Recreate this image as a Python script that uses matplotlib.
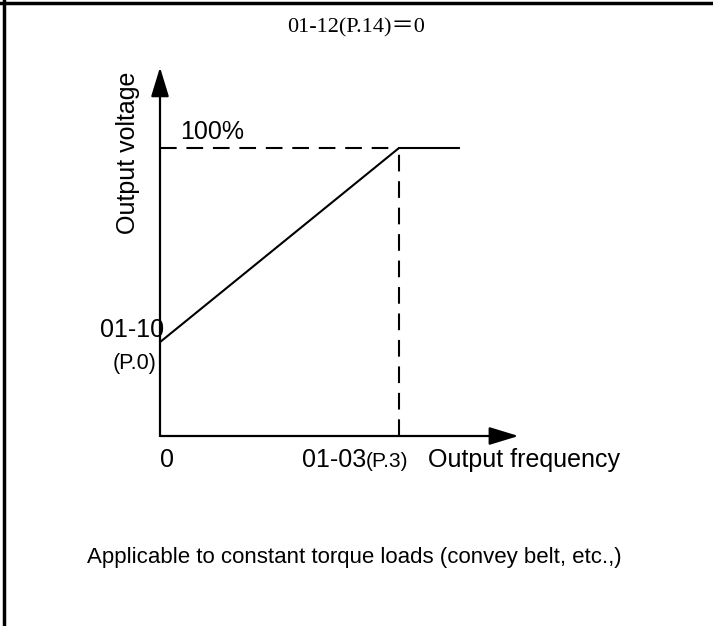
import matplotlib
matplotlib.use("Agg")
import matplotlib.pyplot as plt
from matplotlib.lines import Line2D

# ---- data (schematic V/f curve) ----
freq = [0.0, 1.0, 1.255]          # output frequency (base freq = 1)
volt = [32.6, 100.0, 100.0]       # output voltage, %
base_freq = 1.0
full_volt = 100.0
x_max = 1.5
y_max = 128.0

title_text = "01-12(P.14)\uff1d0"
caption = "Applicable to constant torque loads (convey belt, etc.,)"

W, H = 713, 626
fig = plt.figure(figsize=(W / 100, H / 100), dpi=100)
fig.patch.set_facecolor("white")

# axes placed so that origin is at pixel (160, 436)
ox, oy = 160, 436
px_per_x = 239.0
px_per_y = 2.88
ax = fig.add_axes([ox / W, (H - oy) / H, x_max * px_per_x / W, y_max * px_per_y / H])
ax.set_xlim(0, x_max)
ax.set_ylim(0, y_max)
ax.axis("off")

lw = 1.6
# axes arrows
ap = dict(arrowstyle="-|>,head_length=1.8,head_width=0.55", lw=lw, color="black",
          shrinkA=0, shrinkB=0, mutation_scale=10)
ax.annotate("", xy=(x_max, 0), xytext=(0, 0), arrowprops=ap, annotation_clip=False)
ax.annotate("", xy=(0, y_max), xytext=(0, 0), arrowprops=ap, annotation_clip=False)

# V/f line
ax.plot(freq, volt, color="black", lw=1.5, solid_capstyle="butt", clip_on=False)
# dashed guides
ax.plot([0, base_freq], [full_volt, full_volt], color="black", lw=1.5,
        linestyle=(0, (8, 4.7)), clip_on=False)
ax.plot([base_freq, base_freq], [0, full_volt], color="black", lw=1.5,
        linestyle=(0, (8, 4.7)), clip_on=False)

sans = "Liberation Sans"

def ptext(x, y, s, **kw):
    fig.text(x / W, 1 - y / H, s, **kw)

ptext(356, 28, title_text, family=["Liberation Serif", "Noto Sans CJK SC"],
      fontsize=16, ha="center", va="center")
ptext(180, 139, "100%", family=sans, fontsize=18, ha="left", va="baseline")
ptext(128, 153, "Output voltage", family=sans, fontsize=18, rotation=90,
      ha="center", va="center")
ptext(164, 330, "01-10", family=sans, fontsize=18, ha="right", va="center")
ptext(156, 363, "(P.0)", family=sans, fontsize=15.5, ha="right", va="center")
ptext(167, 467, "0", family=sans, fontsize=18, ha="center", va="baseline")
ptext(302, 467, "01-03", family=sans, fontsize=18, ha="left", va="baseline")
ptext(366, 467, "(P.3)", family=sans, fontsize=15, ha="left", va="baseline")
ptext(428, 467, "Output frequency", family=sans, fontsize=18, ha="left", va="baseline")
ptext(354, 557, caption, family=sans, fontsize=16, ha="center", va="center")

# frame lines (top and left)
fig.add_artist(Line2D([0, 1], [1 - 3 / H, 1 - 3 / H], transform=fig.transFigure,
                      color="black", lw=2.5))
fig.add_artist(Line2D([4 / W, 4 / W], [0, 1], transform=fig.transFigure,
                      color="black", lw=2.5))

fig.savefig("out.png", dpi=100, facecolor="white")
